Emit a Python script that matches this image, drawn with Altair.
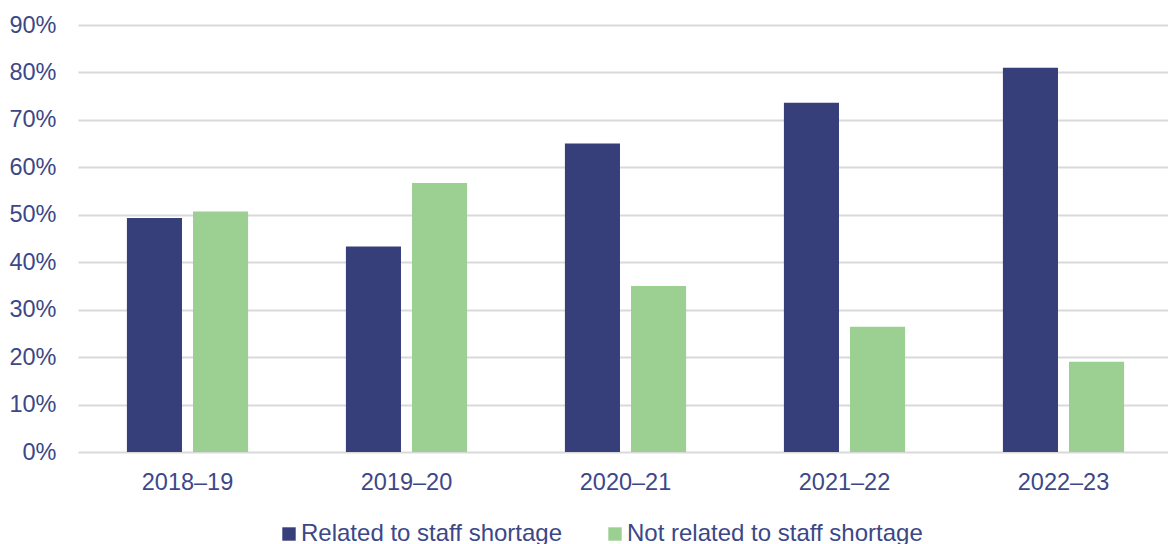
import altair as alt
import pandas as pd

years = ["2018–19", "2019–20", "2020–21", "2021–22", "2022–23"]
related = [49.3, 43.3, 65.0, 73.6, 81.0]
not_related = [50.7, 56.7, 35.0, 26.4, 19.0]
series = ["Related to staff shortage", "Not related to staff shortage"]
colors = ["#373F7B", "#9BD092"]

rows = []
for y, r, n in zip(years, related, not_related):
    rows.append({"year": y, "series": series[0], "value": r / 100})
    rows.append({"year": y, "series": series[1], "value": n / 100})
df = pd.DataFrame(rows)

text_color = "#3C4788"
font = "Liberation Sans"

chart = alt.Chart(df).mark_bar().encode(
    x=alt.X("year:N", sort=years, title=None,
            scale=alt.Scale(paddingInner=0, paddingOuter=0, range=[0, 1095]),
            axis=alt.Axis(labelAngle=0, labelFontSize=23.5, labelColor=text_color,
                          labelFont=font, ticks=False, domain=False, labelPadding=18,
                          grid=False)),
    xOffset=alt.XOffset("series:N", sort=series,
                        scale=alt.Scale(paddingInner=0.1667, paddingOuter=0.74)),
    y=alt.Y("value:Q", title=None,
            scale=alt.Scale(domain=[0, 0.9], nice=False),
            axis=alt.Axis(format=".0%", values=[i / 10 for i in range(10)],
                          labelFontSize=23.5, labelColor=text_color, labelFont=font,
                          ticks=False, domain=False, labelPadding=22,
                          gridColor="#D9D9D9", gridWidth=2)),
    color=alt.Color("series:N", sort=series,
                    scale=alt.Scale(domain=series, range=colors),
                    legend=alt.Legend(title=None, orient="none", direction="horizontal",
                                      legendX=199, legendY=497,
                                      symbolType="square", symbolSize=180,
                                      symbolStrokeWidth=0, labelFontSize=24,
                                      labelColor=text_color, labelFont=font,
                                      labelOffset=0, columnPadding=40,
                                      labelLimit=400)),
).properties(
    width=1090, height=427,
    autosize=alt.AutoSizeParams(type="none"),
    padding={"left": 78, "top": 25, "right": 0, "bottom": 92},
).configure_view(stroke=None)

chart.save("out.html", embed_options={"renderer": "svg", "actions": False})
